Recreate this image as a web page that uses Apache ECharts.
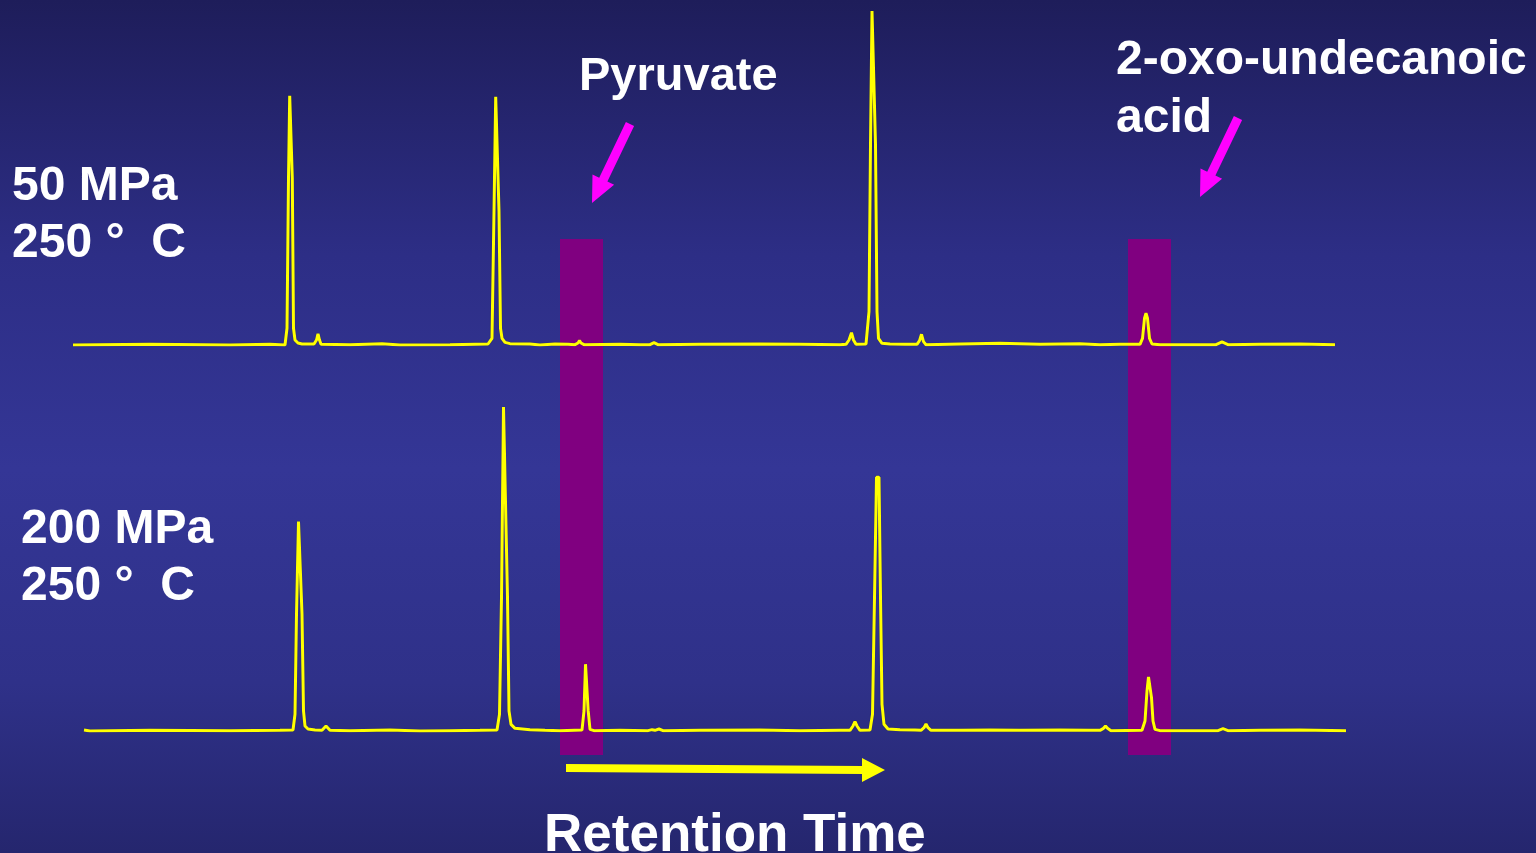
<!DOCTYPE html>
<html>
<head>
<meta charset="utf-8">
<script src="https://cdn.jsdelivr.net/npm/echarts@6/dist/echarts.min.js"></script>
<style>
html,body{margin:0;padding:0;width:1536px;height:853px;overflow:hidden;}
#chart{width:1536px;height:853px;}
</style>
</head>
<body>
<div id="chart"></div>
<script>
// Retention time (min) and relative intensity (%)
const trace50MPa = [
  [0,0],[1.54,0.2],[3.14,0],[3.94,0.2],[4.24,0],[4.28,5],[4.31,50],[4.334,74.6],[4.36,74.6],[4.386,50],[4.41,5],[4.44,1.5],[4.50,0.6],[4.58,0.3],
  [4.82,0.3],[4.87,1.5],[4.90,3.3],[4.93,1.5],[4.96,0.2],[5.54,0.1],[6.18,0.4],[6.54,0],[7.54,0.1],[8.30,0.3],
  [8.34,0.3],[8.38,2],[8.42,40],[8.454,74.3],[8.494,74.3],[8.52,40],[8.55,5],[8.58,2],[8.64,0.8],[8.74,0.4],[9.14,0.3],[9.34,0],
  [9.64,0.3],[9.90,0.2],[10.04,0.1],[10.10,0.6],[10.13,1.3],[10.16,0.6],[10.22,0.1],[10.94,0.2],[11.34,0.1],
  [11.54,0.1],[11.62,0.7],[11.70,0.1],[12.54,0.2],[13.74,0.3],[14.54,0.2],[15.34,0.1],
  [15.46,0.2],[15.52,1.5],[15.57,3.7],[15.61,1.5],[15.66,0.2],[15.86,0.3],
  [15.88,0.5],[15.92,10],[15.95,60],[15.98,100],[16.02,100],[16.05,60],[16.08,10],[16.11,2],[16.18,0.5],[16.34,0.3],[16.64,0.2],
  [16.88,0.2],[16.93,1.3],[16.97,3.2],[17.01,1],[17.06,0.1],[17.74,0.3],[18.54,0.5],[19.34,0.2],[20.14,0.4],[20.54,0.1],[20.94,0.2],
  [21.34,0.2],[21.39,2],[21.43,8],[21.46,9.5],[21.49,8],[21.53,2],[21.58,0.3],[21.74,0.1],
  [22.86,0.1],[22.98,0.9],[23.10,0.1],[23.74,0.2],[24.54,0.3],[25.24,0.1]
];
const trace200MPa = [
  [0.22,0.3],[0.34,0],[1.54,0.2],[3.14,0.1],[4.14,0.2],
  [4.40,0.3],[4.44,5],[4.47,35],[4.51,62.7],[4.55,62.7],[4.58,35],[4.61,6],[4.64,1.5],[4.70,0.6],[4.84,0.3],
  [4.98,0.2],[5.06,1.5],[5.14,0.2],[5.54,0.1],[6.34,0.3],[6.94,0],[7.54,0.1],[8.14,0.2],
  [8.48,0.3],[8.53,5],[8.57,40],[8.61,97],[8.65,97],[8.69,40],[8.72,6],[8.76,2],[8.84,0.8],[9.14,0.4],[9.44,0.2],[9.74,0.1],
  [10.18,0.3],[10.22,6],[10.25,20],[10.274,20],[10.304,6],[10.34,0.5],[10.42,0.1],[10.94,0.2],
  [11.50,0.1],[11.58,0.4],[11.64,0.2],[11.72,0.6],[11.80,0.1],[12.54,0.2],[13.74,0.3],[14.54,0.1],[15.34,0.2],
  [15.54,0.2],[15.60,1.5],[15.64,2.8],[15.68,1.5],[15.74,0.2],
  [15.94,0.3],[15.99,5],[16.03,40],[16.07,76],[16.12,76],[16.15,40],[16.18,8],[16.22,2],[16.30,0.6],[16.54,0.4],[16.84,0.3],
  [16.96,0.2],[17.02,1],[17.06,2.1],[17.10,1],[17.16,0.2],[17.74,0.2],[18.34,0.3],[18.94,0.2],[19.74,0.3],[20.34,0.2],
  [20.54,0.2],[20.61,0.8],[20.65,1.5],[20.69,0.8],[20.76,0.1],
  [21.38,0.2],[21.44,3],[21.48,12],[21.51,16.2],[21.54,16.2],[21.57,10],[21.60,3],[21.64,0.5],[21.74,0.1],
  [22.90,0.1],[23.00,0.7],[23.10,0.1],[23.74,0.2],[24.54,0.3],[25.46,0.1]
];
// highlighted retention-time windows (min)
const bandPyruvate = [9.74, 10.60];
const bandOxoAcid = [21.10, 21.96];
const timeMin = 0, timeMax = 25.46;

const FONT = '"Liberation Sans", Arial, sans-serif';
const chart = echarts.init(document.getElementById('chart'));

function xAx(i){ return {gridIndex:i, type:'value', min:timeMin, max:timeMax, show:false}; }
function yAx(i){ return {gridIndex:i, type:'value', min:0, max:100, show:false}; }

const traceStyle = {color:'#ffff00', width:3, shadowColor:'rgba(0,0,0,0.35)', shadowBlur:1};

function label(text, x, y, size){
  return {type:'text', x:x, y:y, z:100, style:{text:text, fill:'#ffffff', font:'bold '+size+'px '+FONT, textVerticalAlign:'top'}};
}
function magentaArrow(dx, dy){
  const pts = [[625.9,122.1],[634.1,125.9],[607.4,181.5],[614.1,184.8],[592,203],[592.5,174.4],[599.2,177.7]];
  return {type:'polygon', z:100, shape:{points:pts.map(p=>[p[0]+dx,p[1]+dy])}, style:{fill:'#ff00ff'}};
}

chart.setOption({
  animation:false,
  backgroundColor:{type:'linear', x:0, y:0, x2:0, y2:1, colorStops:[
    {offset:0, color:'#1e1d5a'},{offset:0.3, color:'#2d2e86'},{offset:0.55, color:'#343696'},{offset:0.8, color:'#2f3189'},{offset:1, color:'#25266e'}
  ]},
  grid:[
    {left:73, right:190, top:11, bottom:508},
    {left:73, right:190, top:397, bottom:122},
    {left:73, right:190, top:239, bottom:98}
  ],
  xAxis:[xAx(0), xAx(1), xAx(2)],
  yAxis:[yAx(0), yAx(1), yAx(2)],
  series:[
    {type:'line', xAxisIndex:2, yAxisIndex:2, data:[], z:1, silent:true,
      markArea:{silent:true, itemStyle:{color:'#800080', opacity:1},
        data:[[{xAxis:bandPyruvate[0]},{xAxis:bandPyruvate[1]}],[{xAxis:bandOxoAcid[0]},{xAxis:bandOxoAcid[1]}]]}},
    {name:'50 MPa', type:'line', xAxisIndex:0, yAxisIndex:0, data:trace50MPa, showSymbol:false, z:5, lineStyle:traceStyle},
    {name:'200 MPa', type:'line', xAxisIndex:1, yAxisIndex:1, data:trace200MPa, showSymbol:false, z:5, lineStyle:traceStyle}
  ],
  graphic:[
    label('Pyruvate', 579, 54, 47),
    label('2-oxo-undecanoic', 1116, 37, 48),
    label('acid', 1116, 95, 48),
    label('50 MPa', 12, 163, 48),
    label('250 °  C', 12, 220, 48),
    label('200 MPa', 21, 506, 48),
    label('250 °  C', 21, 563, 48),
    label('Retention Time', 544, 810, 53),
    magentaArrow(0, 0),
    magentaArrow(608, -6),
    {type:'polygon', z:100, shape:{points:[[566,764],[862,766],[862,758],[885,770],[862,782],[862,774],[566,772]]}, style:{fill:'#ffff00'}}
  ]
});
</script>
</body>
</html>
